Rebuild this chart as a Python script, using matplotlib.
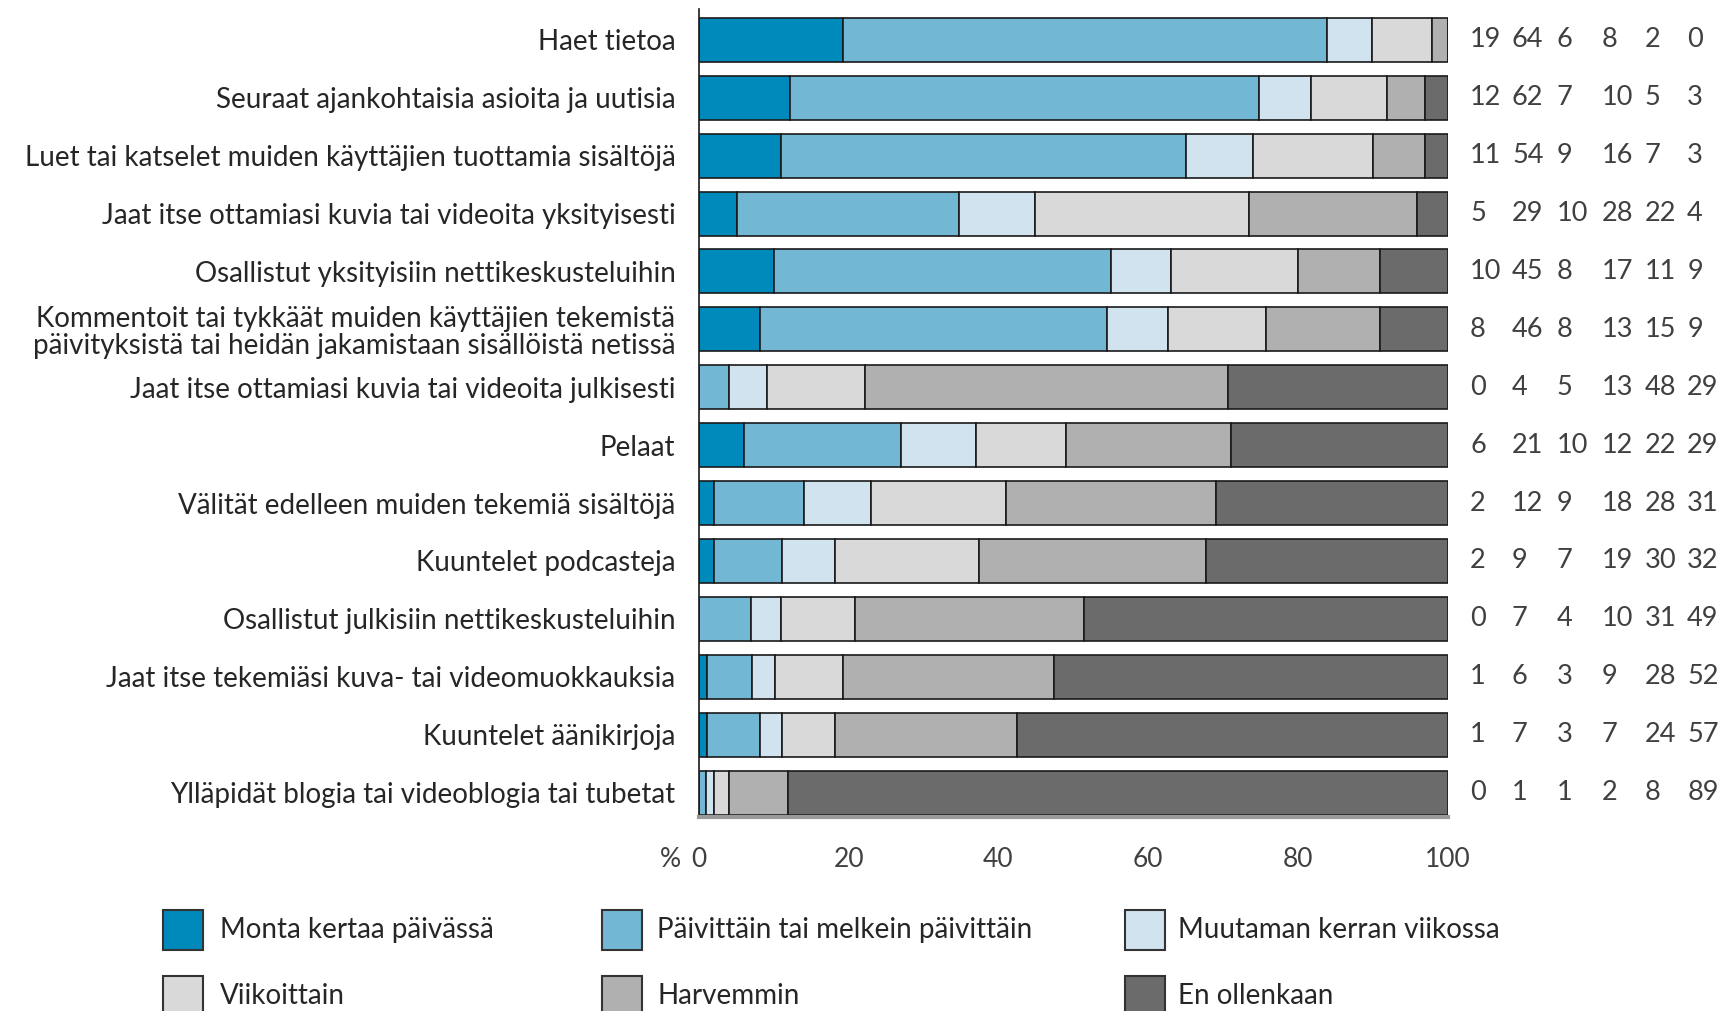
import numpy as np
import matplotlib
matplotlib.use("Agg")
from matplotlib import pyplot as plt
from matplotlib.patches import Rectangle

plt.rcParams['font.family'] = ['Lato', 'DejaVu Sans']

activities = [
    "Haet tietoa",
    "Seuraat ajankohtaisia asioita ja uutisia",
    "Luet tai katselet muiden käyttäjien tuottamia sisältöjä",
    "Jaat itse ottamiasi kuvia tai videoita yksityisesti",
    "Osallistut yksityisiin nettikeskusteluihin",
    "Kommentoit tai tykkäät muiden käyttäjien tekemistä\npäivityksistä tai heidän jakamistaan sisällöistä netissä",
    "Jaat itse ottamiasi kuvia tai videoita julkisesti",
    "Pelaat",
    "Välität edelleen muiden tekemiä sisältöjä",
    "Kuuntelet podcasteja",
    "Osallistut julkisiin nettikeskusteluihin",
    "Jaat itse tekemiäsi kuva- tai videomuokkauksia",
    "Kuuntelet äänikirjoja",
    "Ylläpidät blogia tai videoblogia tai tubetat",
]
freq_labels = ["Monta kertaa päivässä", "Päivittäin tai melkein päivittäin",
               "Muutaman kerran viikossa", "Viikoittain", "Harvemmin", "En ollenkaan"]

monta = [19, 12, 11, 5, 10, 8, 0, 6, 2, 2, 0, 1, 1, 0]
paivittain = [64, 62, 54, 29, 45, 46, 4, 21, 12, 9, 7, 6, 7, 1]
muutaman = [6, 7, 9, 10, 8, 8, 5, 10, 9, 7, 4, 3, 3, 1]
viikoittain = [8, 10, 16, 28, 17, 13, 13, 12, 18, 19, 10, 9, 7, 2]
harvemmin = [2, 5, 7, 22, 11, 15, 48, 22, 28, 30, 31, 28, 24, 8]
en_ollenkaan = [0, 3, 3, 4, 9, 9, 29, 29, 31, 32, 49, 52, 57, 89]

series = [monta, paivittain, muutaman, viikoittain, harvemmin, en_ollenkaan]
colors = ["#008abb", "#72b8d4", "#d0e3ee", "#d9d9d9", "#b0b0b0", "#6b6b6b"]
ticks = [0, 20, 40, 60, 80, 100]

fig = plt.figure(figsize=(17.26, 10.11), dpi=100)
ax = fig.add_axes([0.405, 0.192, 0.4337, 0.799])

y = np.arange(len(activities))
data = np.array(series, dtype=float)
# rounded values don't always sum to 100, scale so every bar ends at 100
data = data / data.sum(axis=0) * 100
left = np.zeros(len(activities))
for vals, col in zip(data, colors):
    ax.barh(y, vals, left=left, height=0.76, color=col, edgecolor="#1a1a1a", linewidth=1.2)
    left += vals

ax.set_ylim(13.42, -0.53)
ax.set_xlim(0, 100)
ax.set_yticks(y)
ax.set_yticklabels(activities, fontsize=20, color="#262626", linespacing=1.05)
ax.set_xticks(ticks)
ax.set_xticklabels([str(t) for t in ticks], fontsize=19, color="#404040")
ax.tick_params(axis="y", length=0, pad=17)
ax.tick_params(axis="x", length=0, pad=22)
for s in ["top", "right"]:
    ax.spines[s].set_visible(False)
ax.spines["left"].set_color("#1a1a1a")
ax.spines["left"].set_linewidth(1.2)
ax.spines["bottom"].set_color("#9a9a9a")
ax.spines["bottom"].set_linewidth(3)
ax.annotate("%", xy=(0, 0), xycoords="axes fraction", xytext=(-13, -22),
            textcoords="offset points", ha="right", va="top",
            fontsize=19, color="#404040")

# value table on the right
col_x = [103.0, 108.6, 114.6, 120.6, 126.3, 132.0]
for i in range(len(activities)):
    for j, s in enumerate(series):
        ax.text(col_x[j], i, str(s[i]), ha="left", va="center", fontsize=19.5,
                color="#404040", clip_on=False)

# legend
leg_cols = [(163, 220), (602, 657), (1125, 1178)]
leg_rows = [930, 996]
for k, (lab, col) in enumerate(zip(freq_labels, colors)):
    px, tx = leg_cols[k % 3]
    py = leg_rows[k // 3]
    fig.add_artist(Rectangle((px / 1726, 1 - (py + 20) / 1011), 40 / 1726, 40 / 1011,
                             transform=fig.transFigure, facecolor=col,
                             edgecolor="#333333", linewidth=1.5))
    fig.text(tx / 1726, 1 - py / 1011, lab, ha="left", va="center",
             fontsize=20, color="#262626")

fig.savefig("out.png", dpi=100)
